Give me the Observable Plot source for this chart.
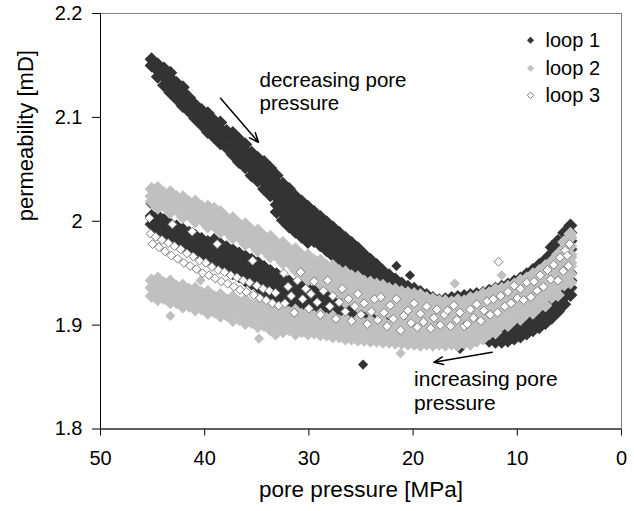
<!DOCTYPE html>
<html><head><meta charset="utf-8">
<script src="https://cdn.jsdelivr.net/npm/d3@7"></script>
<script src="https://cdn.jsdelivr.net/npm/@observablehq/plot@0.6"></script>
<style>html,body{margin:0;padding:0;background:#fff} svg{display:block}</style>
</head><body><div id="chart"></div>
<script>
const xTicks = [50, 40, 30, 20, 10, 0];
const yTicks = [1.8, 1.9, 2, 2.1, 2.2];
const seriesNames = ["loop 1", "loop 2", "loop 3"];
const xTitle = "pore pressure [MPa]";
const yTitle = "permeability [mD]";
const noteDecreasing = ["decreasing pore", "pressure"];
const noteIncreasing = ["increasing pore", "pressure"];

// rows: [pore pressure (MPa), permeability readings (mD) ...]
const loop1Decreasing = [
[45.1,2.150,2.156],[44.5,2.139,2.145,2.151],[43.9,2.131,2.139,2.147],[43.3,2.124,2.131,2.138,2.143],
[42.7,2.118,2.126,2.133],[42.1,2.111,2.118,2.125,2.129],[41.5,2.106,2.113,2.119],[40.9,2.099,2.106,2.112],
[40.3,2.093,2.100,2.107],[39.7,2.086,2.093,2.100,2.104],[39.1,2.081,2.089,2.097],[38.5,2.075,2.082,2.089,2.095],
[37.9,2.071,2.079,2.087],[37.3,2.064,2.071,2.078,2.085],[36.7,2.057,2.064,2.071,2.079],[36.1,2.052,2.060,2.068,2.074],
[35.5,2.044,2.051,2.058,2.066],[34.9,2.039,2.046,2.053,2.061],[34.3,2.031,2.038,2.045,2.052,2.057],
[33.7,2.025,2.032,2.039,2.046,2.051],[33.1,2.009,2.016,2.023,2.030,2.037,2.044],[32.5,2.001,2.008,2.015,2.022,2.029,2.036],
[31.9,1.995,2.002,2.009,2.016,2.023,2.031],[31.3,1.990,1.996,2.003,2.010,2.017,2.024],[30.7,1.985,1.991,1.998,2.005,2.012,2.019],
[30.1,1.980,1.986,1.993,2.000,2.007,2.014],[29.5,1.981,1.988,1.995,2.002,2.009],[28.9,1.977,1.984,1.991,1.998,2.004],
[28.3,1.972,1.979,1.986,1.993,1.999],[27.7,1.967,1.974,1.981,1.988,1.994],[27.1,1.962,1.969,1.976,1.983,1.989],
[26.5,1.957,1.964,1.971,1.978,1.984],[25.9,1.952,1.959,1.966,1.973,1.979],[25.3,1.948,1.955,1.962,1.969,1.974],
[24.7,1.944,1.951,1.957,1.964,1.968],[24.1,1.940,1.947,1.953,1.960,1.963],[23.5,1.935,1.942,1.949,1.955,1.958],
[22.9,1.931,1.938,1.945,1.952],[22.3,1.928,1.935,1.942,1.948],[21.7,1.924,1.931,1.938,1.944],[21.1,1.921,1.928,1.935,1.940],
[20.5,1.918,1.925,1.932,1.937],[19.9,1.916,1.923,1.930,1.935],[19.3,1.913,1.921,1.928,1.932],[18.7,1.912,1.920,1.929],
[18.1,1.909,1.917,1.926],[17.5,1.906,1.914,1.923],[16.9,1.904,1.912,1.921],[16.3,1.901,1.909,1.918],[15.7,1.899,1.907,1.915],
[15.1,1.896,1.904,1.913],[14.5,1.894,1.902,1.910],[13.9,1.891,1.899,1.907],[13.3,1.888,1.896,1.903],[12.7,1.885,1.892,1.899],
[12.1,1.884,1.891,1.897],[11.5,1.884,1.891,1.897],[10.9,1.885,1.892,1.898],[10.3,1.887,1.894,1.900],[9.7,1.889,1.896,1.903],
[9.1,1.892,1.899,1.906],[8.5,1.895,1.902,1.909],[7.9,1.898,1.905,1.912],[7.3,1.902,1.909,1.916],[6.7,1.907,1.914,1.921],
[6.1,1.913,1.920,1.927],[5.5,1.920,1.927,1.934],[4.9,1.929,1.936,1.943,1.950]
];
const loop1Increasing = [
[4.9,1.973,1.981,1.989,1.996],[5.5,1.966,1.974,1.982,1.989],[6.1,1.959,1.967,1.975,1.981],[6.7,1.953,1.961,1.969,1.975],
[7.3,1.947,1.955,1.963],[7.9,1.942,1.950,1.958],[8.5,1.938,1.945,1.953],[9.1,1.935,1.942,1.949],[9.7,1.931,1.938,1.945],
[10.3,1.928,1.935,1.942],[10.9,1.925,1.932,1.939],[11.5,1.923,1.930,1.937],[12.1,1.921,1.928,1.935],[12.7,1.919,1.926,1.933],
[13.3,1.917,1.924,1.931],[13.9,1.916,1.923,1.930],[14.5,1.915,1.922,1.929],[15.1,1.914,1.921,1.928],[15.7,1.913,1.920,1.927],
[16.3,1.912,1.919,1.926],[16.9,1.911,1.918,1.925],[17.5,1.911,1.918,1.924],[18.1,1.910,1.917,1.924],[18.7,1.910,1.917,1.923],
[19.3,1.910,1.916,1.923],[19.9,1.909,1.916,1.922],[20.5,1.909,1.916,1.922],[21.1,1.909,1.916,1.922],[21.7,1.909,1.916,1.923],
[22.3,1.909,1.916,1.923],[22.9,1.909,1.916,1.923],[23.5,1.910,1.917,1.923],[24.1,1.910,1.917,1.924],[24.7,1.910,1.917,1.924],
[25.3,1.911,1.918,1.925],[25.9,1.911,1.918,1.925],[26.5,1.912,1.919,1.926],[27.1,1.912,1.919,1.926],[27.7,1.912,1.919,1.926],
[28.3,1.911,1.918,1.925,1.931],[28.9,1.911,1.918,1.925,1.932],[29.5,1.912,1.919,1.926,1.933],[30.1,1.913,1.920,1.927,1.935],
[30.7,1.914,1.921,1.929,1.937],[31.3,1.916,1.923,1.931,1.939],[31.9,1.918,1.926,1.934,1.942],[32.5,1.921,1.929,1.937,1.945],
[33.1,1.925,1.933,1.941,1.949],[33.7,1.928,1.936,1.944,1.952],[34.3,1.932,1.940,1.948,1.956],[34.9,1.937,1.945,1.953,1.960],
[35.5,1.940,1.948,1.956,1.963],[36.1,1.943,1.951,1.959,1.966],[36.7,1.947,1.955,1.963,1.969],[37.3,1.950,1.958,1.966,1.972],
[37.9,1.954,1.962,1.970,1.975],[38.5,1.957,1.965,1.973,1.978],[39.1,1.960,1.968,1.976,1.982],[39.7,1.964,1.972,1.980],
[40.3,1.967,1.975,1.983],[40.9,1.970,1.978,1.986],[41.5,1.973,1.981,1.989],[42.1,1.977,1.984,1.992],[42.7,1.980,1.987,1.995],
[43.3,1.983,1.990,1.997],[43.9,1.987,1.994,2.001],[44.5,1.991,1.998,2.005],[45.1,1.997,2.005]
];
const loop1Scattered = [[45.2,2.017],[24.8,1.862],[21.6,1.957],[20.3,1.948],[15.5,1.877]];

const loop2Upper = [
[45.1,2.019,2.024,2.031],[44.5,2.013,2.018,2.025,2.032],[43.9,2.015,2.020,2.027],[43.3,2.009,2.014,2.021,2.028],
[42.7,2.011,2.016,2.023],[42.1,2.004,2.009,2.016,2.023],[41.5,2.006,2.011,2.018],[40.9,2.000,2.005,2.012,2.019],
[40.3,2.002,2.007,2.014],[39.7,1.995,2.000,2.007,2.014],[39.1,1.996,2.001,2.008,2.012],[38.5,1.990,1.995,2.002,2.009],
[37.9,1.991,1.996,2.003],[37.3,1.984,1.989,1.996,2.003],[36.7,1.985,1.990,1.997],[36.1,1.978,1.983,1.990,1.997],
[35.5,1.979,1.984,1.991],[34.9,1.972,1.977,1.984,1.991],[34.3,1.973,1.978,1.985],[33.7,1.966,1.971,1.978,1.985],
[33.1,1.967,1.972,1.979],[32.5,1.960,1.965,1.972,1.979],[31.9,1.960,1.966,1.973],[31.3,1.953,1.959,1.966,1.973],
[30.7,1.951,1.959,1.967],[30.1,1.944,1.952,1.960,1.967],[29.5,1.946,1.954,1.962],[28.9,1.940,1.948,1.956,1.962],
[28.3,1.941,1.949,1.957],[27.7,1.935,1.943,1.951,1.957],[27.1,1.930,1.937,1.945,1.952],[26.5,1.922,1.930,1.938,1.946,1.951],
[25.9,1.924,1.932,1.940,1.947],[25.3,1.918,1.925,1.933,1.941,1.946],[24.7,1.919,1.927,1.935,1.942],[24.1,1.914,1.921,1.929,1.937,1.941],
[23.5,1.915,1.923,1.931,1.939],[22.9,1.911,1.918,1.926,1.934,1.938],[22.3,1.912,1.920,1.928,1.935],[21.7,1.914,1.922,1.930,1.934],
[21.1,1.909,1.917,1.925,1.932],[20.5,1.911,1.919,1.927,1.931],[19.9,1.906,1.914,1.922,1.930],[19.3,1.908,1.916,1.924,1.929],
[18.7,1.910,1.918,1.926],[18.1,1.905,1.913,1.921,1.925],[17.5,1.908,1.916,1.923],[16.9,1.903,1.911,1.919,1.923],
[16.3,1.907,1.915,1.922],[15.7,1.903,1.911,1.919,1.924],[15.1,1.908,1.916,1.923],[14.5,1.905,1.913,1.921,1.926],
[13.9,1.911,1.919,1.927],[13.3,1.909,1.917,1.925,1.930],[12.7,1.915,1.923,1.931],[12.1,1.913,1.921,1.929,1.934],
[11.5,1.919,1.927,1.935],[10.9,1.917,1.925,1.933,1.937],[10.3,1.924,1.932,1.939],[9.7,1.923,1.931,1.939,1.943],
[9.1,1.930,1.938,1.945],[8.5,1.930,1.938,1.946,1.949],[7.9,1.936,1.944,1.952],[7.3,1.936,1.944,1.952,1.957],
[6.7,1.945,1.953,1.961],[6.1,1.947,1.955,1.963,1.968],[5.5,1.958,1.966,1.974,1.980],[4.9,1.960,1.968,1.976,1.984,1.988]
];
const loop2Lower = [
[45.1,1.928,1.936,1.943],[44.5,1.925,1.933,1.940,1.945],[43.9,1.926,1.933,1.940],[43.3,1.922,1.929,1.936,1.942],
[42.7,1.922,1.930,1.937],[42.1,1.918,1.925,1.932,1.938],[41.5,1.919,1.927,1.934],[40.9,1.915,1.922,1.929,1.935],
[40.3,1.916,1.924,1.931],[39.7,1.912,1.919,1.926,1.932],[39.1,1.913,1.920,1.927],[38.5,1.909,1.916,1.923,1.929],
[37.9,1.910,1.917,1.924],[37.3,1.905,1.913,1.921,1.927],[36.7,1.906,1.914,1.922],[36.1,1.902,1.910,1.918,1.924],
[35.5,1.903,1.911,1.919],[34.9,1.899,1.907,1.915,1.921],[34.3,1.900,1.908,1.916],[33.7,1.896,1.904,1.912,1.918],
[33.1,1.898,1.906,1.914],[32.5,1.894,1.902,1.910,1.916],[31.9,1.896,1.904,1.912],[31.3,1.892,1.900,1.908,1.914],
[30.7,1.894,1.902,1.910],[30.1,1.892,1.899,1.906,1.912],[29.5,1.893,1.900,1.908],[28.9,1.891,1.897,1.904,1.910],
[28.3,1.891,1.898,1.906],[27.7,1.889,1.895,1.902,1.908],[27.1,1.889,1.896,1.904],[26.5,1.887,1.893,1.900,1.906],
[25.9,1.887,1.894,1.902],[25.3,1.886,1.892,1.899,1.905],[24.7,1.886,1.893,1.901],[24.1,1.885,1.891,1.898,1.904],
[23.5,1.885,1.892,1.900],[22.9,1.884,1.890,1.897,1.903],[22.3,1.884,1.891,1.899],[21.7,1.883,1.889,1.896,1.902],
[21.1,1.883,1.890,1.898],[20.5,1.882,1.888,1.895,1.901],[19.9,1.882,1.889,1.897],[19.3,1.881,1.887,1.894,1.900],
[18.7,1.882,1.889,1.897],[18.1,1.881,1.886,1.893,1.899],[17.5,1.882,1.888,1.896],[16.9,1.881,1.886,1.893,1.899],
[16.3,1.882,1.888,1.896],[15.7,1.881,1.886,1.893,1.899],[15.1,1.883,1.889,1.897],[14.5,1.882,1.888,1.895,1.901],
[13.9,1.885,1.892,1.900],[13.3,1.887,1.894,1.901,1.907],[12.7,1.892,1.900,1.908],[12.1,1.893,1.901,1.909,1.915],
[11.5,1.900,1.908,1.916],[10.9,1.900,1.908,1.916,1.922],[10.3,1.906,1.914,1.922],[9.7,1.906,1.914,1.922,1.928],
[9.1,1.912,1.920,1.928],[8.5,1.912,1.920,1.928,1.934],[7.9,1.918,1.926,1.934],[7.3,1.919,1.927,1.935,1.941],
[6.7,1.927,1.935,1.943],[6.1,1.929,1.937,1.945,1.951],[5.5,1.939,1.947,1.955],[4.9,1.941,1.949,1.957,1.965]
];
const loop2Scattered = [[43.3,1.909],[40.4,1.943],[34.8,1.887],[33.2,1.890],[21.2,1.873],[16.0,1.940],[11.5,1.948]];

const loop3Points = [
[45.3,2.003],[45.2,1.988],[45.0,1.978],[44.7,1.985],[44.4,1.975],[44.1,1.982],[43.8,1.971],[43.5,1.979],[43.1,1.997],
[43.2,1.967],[42.9,1.976],[42.6,1.964],[42.3,1.973],[42.0,1.960],[41.7,1.969],[41.4,1.957],[41.2,1.990],[41.1,1.966],
[40.8,1.954],[40.5,1.962],[40.2,1.950],[39.9,1.960],[39.6,1.948],[39.3,1.956],[39.0,1.945],[38.8,1.978],[38.7,1.953],
[38.4,1.942],[38.1,1.951],[37.8,1.940],[37.5,1.948],[37.2,1.937],[36.9,1.946],[36.6,1.934],[36.3,1.943],[36.0,1.932],
[35.7,1.941],[35.4,1.962],[35.3,1.929],[35.0,1.938],[34.7,1.926],[34.4,1.935],[34.1,1.924],[33.8,1.933],[33.5,1.921],
[33.2,1.931],[32.9,1.919],[32.4,1.950],
[32.3,1.921],[32.0,1.937],[31.7,1.928],[31.4,1.912],[31.1,1.943],[30.8,1.951],[30.6,1.925],[30.3,1.935],
[30.0,1.916],[29.8,1.930],[29.5,1.942],[29.2,1.922],[28.9,1.910],[28.6,1.933],[28.2,1.943],[28.0,1.918],[27.7,1.928],
[27.4,1.906],[27.1,1.922],[26.8,1.935],[26.5,1.913],[26.2,1.925],[25.9,1.904],[25.6,1.918],[25.3,1.930],[25.0,1.910],
[24.7,1.921],[24.4,1.901],[24.0,1.913],[23.7,1.925],[23.4,1.905],[23.1,1.927],[22.8,1.912],[22.5,1.899],[22.2,1.919],
[21.9,1.906],[21.6,1.925],[21.2,1.895],[20.9,1.909],[20.5,1.914],[20.2,1.902],[19.9,1.921],[19.6,1.898],[19.3,1.911],
[19.0,1.903],[18.7,1.918],[18.3,1.897],[18.0,1.907],[17.7,1.915],[17.4,1.900],[17.0,1.910],[16.7,1.914],[16.4,1.899],
[16.1,1.919],[15.8,1.905],[15.5,1.912],[15.1,1.899],[14.8,1.901],[14.5,1.915],[14.2,1.907],[13.9,1.920],[13.5,1.904],
[13.2,1.914],[12.9,1.923],[12.6,1.910],[12.3,1.925],[11.9,1.912],[11.6,1.928],[11.2,1.918],[10.9,1.932],[10.6,1.921],
[10.3,1.938],[10.0,1.926],[9.7,1.935],[9.4,1.924],[9.1,1.941],[8.7,1.927],[8.4,1.942],[8.1,1.933],[7.8,1.948],
[7.5,1.937],[7.1,1.953],[6.8,1.944],[6.5,1.958],[6.1,1.943],[5.9,1.965],[5.6,1.952],[5.4,1.972],[5.2,1.967],
[5.1,1.957],[5.0,1.978],[11.8,1.961]
];

const expand = rows => rows.flatMap(([x, ...ys]) => ys.map(y => ({x, y})));
const pairs = rows => rows.map(([x, y]) => ({x, y}));
const loop1Band = [...expand(loop1Decreasing), ...expand(loop1Increasing)];
const loop2Band = [...expand(loop2Upper), ...expand(loop2Lower)];
const loop1Loose = pairs(loop1Scattered);
const loop2Loose = pairs(loop2Scattered);
const loop3 = pairs(loop3Points);

const dark = "#333333", light = "#c0c0c0", outline = "#7f7f7f";
const font = "'Liberation Sans', Arial, sans-serif";

const chart = Plot.plot({
  width: 634, height: 511,
  marginLeft: 100, marginRight: 13, marginTop: 13, marginBottom: 82.5,
  style: {fontFamily: font, fontSize: "20px", color: "#000", background: "#fff", overflow: "visible"},
  x: {domain: [50, 0], ticks: xTicks, tickSize: 7, tickPadding: 15, tickFormat: d => String(d), label: null},
  y: {domain: [1.8, 2.2], ticks: yTicks, tickSize: 8, tickPadding: 10, tickFormat: d => String(d), label: null},
  marks: [
    Plot.frame({stroke: "#808080", strokeWidth: 1}),
    Plot.ruleX([50], {stroke: "#000", strokeWidth: 1}),
    Plot.ruleY([1.8], {stroke: "#000", strokeWidth: 1}),
    Plot.dot(loop1Band, {x: "x", y: "y", symbol: "diamond2", r: 6.3, fill: dark, stroke: "none"}),
    Plot.dot(loop1Loose, {x: "x", y: "y", symbol: "diamond2", r: 4.6, fill: dark, stroke: "none"}),
    Plot.dot(loop2Band, {x: "x", y: "y", symbol: "diamond2", r: 6.3, fill: light, stroke: "none"}),
    Plot.dot(loop2Loose, {x: "x", y: "y", symbol: "diamond2", r: 4.6, fill: light, stroke: "none"}),
    Plot.dot(loop3, {x: "x", y: "y", symbol: "diamond2", r: 4.0, fill: "#fff", stroke: outline, strokeWidth: 1}),
    // legend
    Plot.dot([seriesNames[0]], {x: () => 8.73, y: () => 2.1743, symbol: "diamond2", r: 3.2, fill: dark, stroke: "none"}),
    Plot.dot([seriesNames[1]], {x: () => 8.73, y: () => 2.1473, symbol: "diamond2", r: 3.2, fill: light, stroke: "none"}),
    Plot.dot([seriesNames[2]], {x: () => 8.73, y: () => 2.1213, symbol: "diamond2", r: 2.9, fill: "#fff", stroke: outline, strokeWidth: 1}),
    Plot.text(seriesNames, {x: () => 7.29, y: (d, i) => [2.1743, 2.1473, 2.1213][i], text: d => d, textAnchor: "start", fontSize: 20, fill: "#000"}),
    // annotations
    Plot.text(noteDecreasing, {x: () => 34.74, y: (d, i) => [2.1293, 2.1068][i], text: d => d, textAnchor: "start", lineAnchor: "bottom", fontSize: 20.5, fill: "#000"}),
    Plot.text(noteIncreasing, {x: () => 19.91, y: (d, i) => [1.8417, 1.8186][i], text: d => d, textAnchor: "start", lineAnchor: "bottom", fontSize: 21, fill: "#000"}),
    Plot.arrow([0], {x1: () => 38.48, y1: () => 2.1184, x2: () => 34.84, y2: () => 2.076, stroke: "#000", strokeWidth: 1.5, headLength: 10, headAngle: 45}),
    Plot.arrow([0], {x1: () => 12.41, y1: () => 1.8738, x2: () => 18.01, y2: () => 1.8642, stroke: "#000", strokeWidth: 1.5, headLength: 10, headAngle: 45}),
    // axis titles
    Plot.text([xTitle], {frameAnchor: "bottom", dy: 68, text: d => d, fontSize: 22.5, fill: "#000"}),
    Plot.text([yTitle], {frameAnchor: "left", dx: -75, rotate: -90, text: d => d, fontSize: 22, fill: "#000"})
  ]
});
document.getElementById("chart").appendChild(chart);
</script>
</body></html>
